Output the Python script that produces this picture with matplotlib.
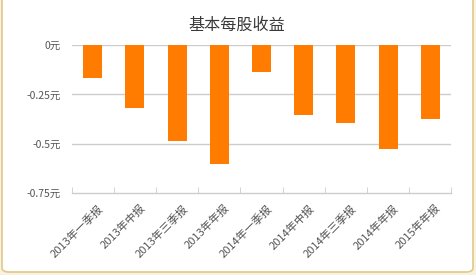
import matplotlib
matplotlib.use('Agg')
import matplotlib.pyplot as plt
from matplotlib.patches import FancyBboxPatch
from matplotlib.transforms import ScaledTranslation
import numpy as np

plt.rcParams['font.family'] = ['Noto Sans CJK SC', 'DejaVu Sans']

# datos
periodos = ['2013年一季报', '2013年中报', '2013年三季报', '2013年年报',
            '2014年一季报', '2014年中报', '2014年三季报', '2014年年报', '2015年年报']
eps = [-0.165, -0.32, -0.485, -0.605, -0.135, -0.355, -0.395, -0.525, -0.375]
yticks = [0, -0.25, -0.5, -0.75]
ylabels = ['0元', '-0.25元', '-0.5元', '-0.75元']

fig = plt.figure(figsize=(4.76, 2.75), dpi=100)
fig.patch.set_facecolor('#f8f2e2')

# marco redondeado
marco = FancyBboxPatch((2 / 476, 3 / 275), 471 / 476, 1.05,
                       boxstyle='round,pad=0,rounding_size=0.015',
                       transform=fig.transFigure, facecolor='white',
                       edgecolor='#e3c887', linewidth=1.2, zorder=-5)
fig.patches.append(marco)

ax = fig.add_axes([0.1506, 0.298, 0.7975, 0.538])
ax.set_zorder(2)
ax.set_facecolor('none')
x = np.arange(len(periodos))
ax.bar(x, eps, width=0.45, color='#ff7c00', zorder=3)

ax.set_xlim(-0.5, len(periodos) - 0.5)
ax.set_ylim(-0.75, 0)
ax.set_yticks(yticks)
ax.set_yticklabels(ylabels)
for v in yticks[:-1]:
    ax.axhline(v, color='#cccccc', linewidth=1, zorder=1)

for s in ['top', 'right', 'left']:
    ax.spines[s].set_visible(False)
ax.spines['bottom'].set_color('#cccccc')
ax.spines['bottom'].set_linewidth(1)

ax.set_xticks(x)
ax.set_xticklabels(periodos, rotation=45, ha='right', rotation_mode='anchor')
ax.set_xticks(np.arange(-0.5, len(periodos)), minor=True)
ax.tick_params(axis='x', which='major', length=0, pad=7, labelsize=8, labelcolor='#555555')
ax.tick_params(axis='x', which='minor', length=4, direction='in', color='#cccccc')
ax.tick_params(axis='y', length=0, pad=8, labelsize=7.5, labelcolor='#555555')
desplaza = ScaledTranslation(5 / 100, 0, fig.dpi_scale_trans)
for lbl in ax.get_xticklabels():
    lbl.set_transform(lbl.get_transform() + desplaza)

fig.text(0.497, 0.909, '基本每股收益', ha='center', va='center', fontsize=11.6, color='#3a3a3a', zorder=3)

fig.savefig('out.png', dpi=100, facecolor=fig.get_facecolor())
